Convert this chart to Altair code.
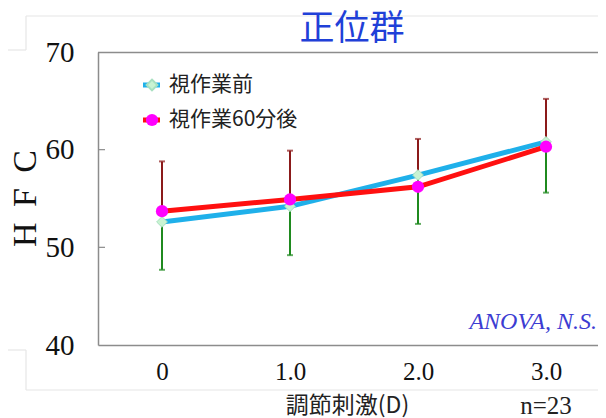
import altair as alt
import pandas as pd

# ---- data ----
stimulus = [0, 1, 2, 3]                      # 調節刺激 (D)
before_mean = [52.6, 54.2, 57.4, 60.8]       # 視作業前
after_mean = [53.7, 54.9, 56.2, 60.3]        # 視作業60分後
after_upper = [58.8, 59.9, 61.1, 65.2]       # 視作業60分後 + SD
before_lower = [47.7, 49.2, 52.4, 55.6]      # 視作業前 - SD
y_ticks = [40, 50, 60, 70]
inner_ticks = [50, 60]
series_names = ["視作業前", "視作業60分後"]

df = pd.DataFrame({
    "stim": stimulus,
    "before": before_mean,
    "after": after_mean,
    "after_hi": after_upper,
    "before_lo": before_lower,
})

SERIF = "Liberation Serif"
CJK = "Noto Sans CJK JP"

x_scale = alt.Scale(domain=[-0.5, 3.40625], nice=False, zero=False)
y_scale = alt.Scale(domain=[40, 70], nice=False, zero=False)

x_axis = alt.Axis(
    values=stimulus,
    labelExpr="datum.value == 0 ? '0' : format(datum.value, '.1f')",
    ticks=False, grid=False, domain=True,
    domainColor="#8c8c8c", domainWidth=1.5,
    labelFont=SERIF, labelFontSize=25, labelColor="#111111", labelPadding=14,
    title="調節刺激(D)", titleFont=CJK, titleFontSize=23, titleFontWeight="normal",
    titleColor="#222222", titleX=249, titleY=60, titleBaseline="middle", titleAlign="center",
)
y_axis = alt.Axis(
    values=y_ticks, ticks=False, grid=False, domain=True,
    domainColor="#8c8c8c", domainWidth=1.5,
    labelFont=SERIF, labelFontSize=29, labelColor="#111111", labelPadding=24,
    labelBaseline="middle",
    title="H \u2009F \u2009C", titleFont=SERIF, titleFontSize=34, titleFontWeight="normal",
    titleColor="#111111", titleAngle=270, titleX=-73, titleY=146,
    titleBaseline="middle", titleAlign="center",
)

X = alt.X("stim:Q", scale=x_scale, axis=x_axis)

def Y(field):
    return alt.Y(field, type="quantitative", scale=y_scale, axis=y_axis)

base = alt.Chart(df)

err_up = base.mark_rule(color="#8b1a1a", strokeWidth=2).encode(
    x=X, y=Y("after"), y2="after_hi:Q")
cap_up = base.mark_tick(color="#8b1a1a", orient="horizontal", size=6, thickness=2).encode(
    x=X, y=Y("after_hi"))
err_lo = base.mark_rule(color="#1f8a1f", strokeWidth=2).encode(
    x=X, y=Y("before"), y2="before_lo:Q")
cap_lo = base.mark_tick(color="#1f8a1f", orient="horizontal", size=6, thickness=2).encode(
    x=X, y=Y("before_lo"))

line_before = base.mark_line(color="#1fb0ea", strokeWidth=5).encode(x=X, y=Y("before"))
pts_before = base.mark_point(shape="diamond", filled=True, size=115, fill="#c9f3d2",
                             stroke="#a8e0c0", strokeWidth=1, opacity=1).encode(
    x=X, y=Y("before"))
line_after = base.mark_line(color="#ff1010", strokeWidth=5).encode(x=X, y=Y("after"))
pts_after = base.mark_point(shape="circle", filled=True, size=150, color="#ff00ff",
                            opacity=1).encode(x=X, y=Y("after"))

one = alt.Data(values=[{"k": 0}])

def rule(x1, x2, y1, y2, color="#e6e6e6", w=1.2):
    return alt.Chart(one).mark_rule(color=color, strokeWidth=w).encode(
        x=alt.value(x1), x2=alt.value(x2), y=alt.value(y1), y2=alt.value(y2))

frame = [
    rule(-72, 500, -36, -36),
    rule(-72, -72, -36, -2),
    rule(-90, -72, -2, -2),
    rule(-90, -72, 298, 298),
    rule(-72, -72, 298, 338),
    rule(-72, 500, 338, 338),
    rule(0, 500, 0.5, 0.5, color="#8c8c8c", w=1.5),  # top border of plot
]

tick_df = pd.DataFrame({"v": inner_ticks})
inner = alt.Chart(tick_df).mark_rule(color="#8c8c8c", strokeWidth=1.2).encode(
    x=alt.value(0), x2=alt.value(7), y=Y("v"))

def label(text, x, y, size, font, color="#222222", align="center", style="normal"):
    return alt.Chart(one).mark_text(
        text=text, fontSize=size, font=font, color=color, align=align,
        baseline="middle", fontStyle=style).encode(x=alt.value(x), y=alt.value(y))

title = label("正位群", 254, -23, 35, CJK, color="#1f40d8")
anova = label("ANOVA, N.S.", 499, 270, 24, SERIF, color="#3c3cd2", align="right", style="italic")
n_text = alt.Chart(one).mark_text(text="n=23", fontSize=25, font=SERIF, color="#222222",
                                  baseline="middle").encode(
    x=alt.X("d:Q", scale=x_scale, axis=x_axis), y=alt.value(354)).transform_calculate(d="3")

# legend (manual)
leg_line1 = rule(45, 62, 33, 33, color="#1fb0ea", w=5)
leg_pt1 = alt.Chart(one).mark_point(shape="diamond", filled=True, size=115, fill="#c9f3d2",
                                    stroke="#a8e0c0", opacity=1).encode(
    x=alt.value(54), y=alt.value(33))
leg_line2 = rule(45, 62, 68, 68, color="#ff1010", w=5)
leg_pt2 = alt.Chart(one).mark_point(shape="circle", filled=True, size=150, color="#ff00ff",
                                    opacity=1).encode(x=alt.value(54), y=alt.value(68))
leg_t1 = label(series_names[0], 71, 33, 21, CJK, align="left")
leg_t2 = label(series_names[1], 71, 68, 21, CJK, align="left")

chart = alt.layer(
    *frame, inner,
    err_up, cap_up, err_lo, cap_lo,
    line_before, pts_before, line_after, pts_after,
    title, anova, n_text,
    leg_line1, leg_pt1, leg_line2, leg_pt2, leg_t1, leg_t2,
).properties(
    width=500, height=293,
    padding={"left": 90, "top": 44, "right": 0, "bottom": 73},
    autosize=alt.AutoSizeParams(type="none"),
    background="white",
).configure_view(stroke=None)

chart.save("out.html", embed_options={"renderer": "svg", "actions": False})
